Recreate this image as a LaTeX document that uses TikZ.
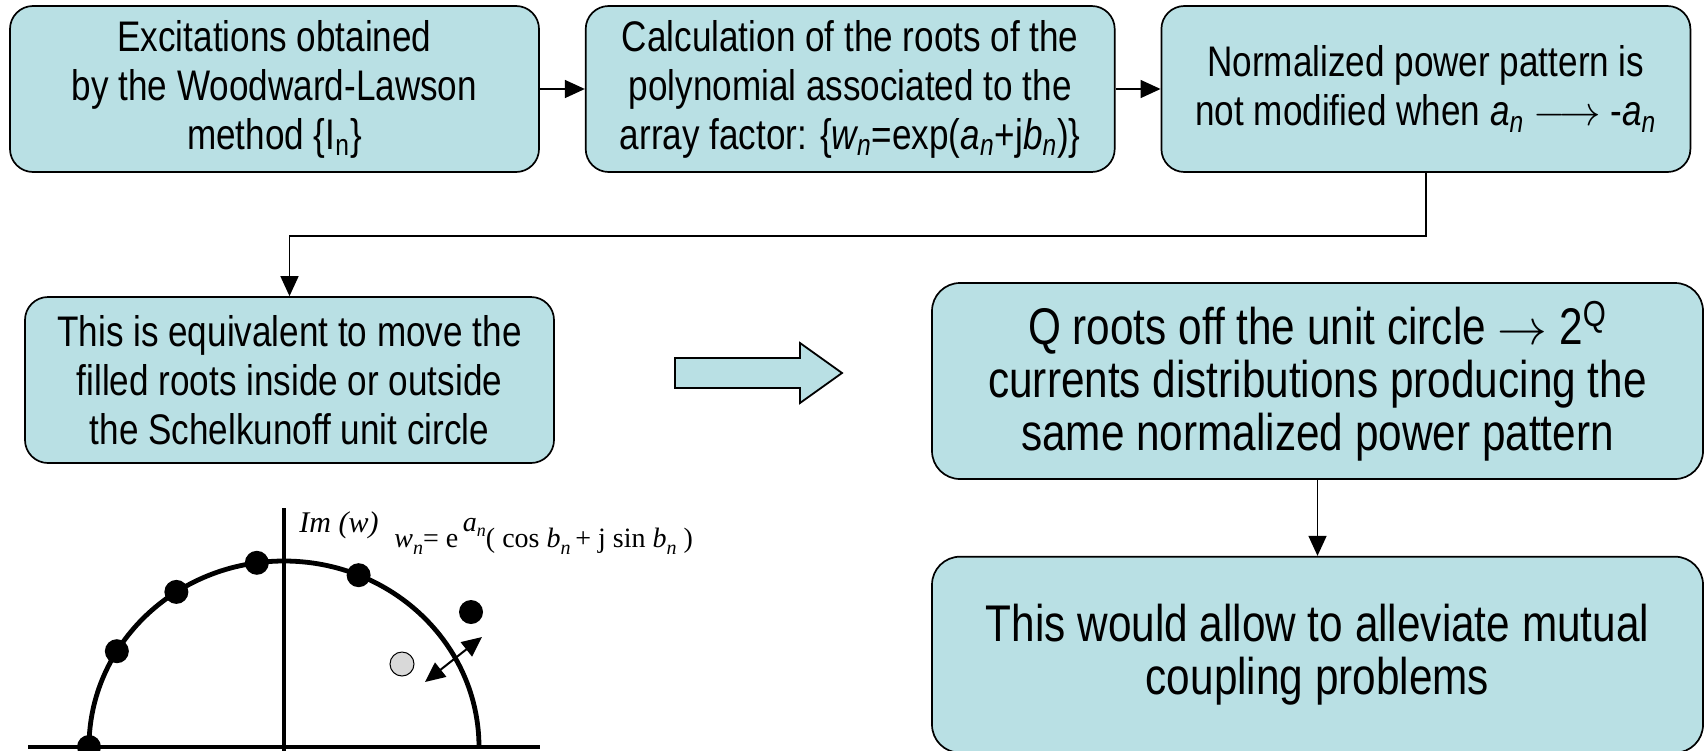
\documentclass[tikz,border=0pt]{standalone}
\usepackage{fontspec}
\setmainfont[FakeStretch=0.82]{Liberation Sans}
\newfontfamily\plotfont{Liberation Serif}
\usepackage{tikz}
\usetikzlibrary{arrows.meta,positioning}
\definecolor{boxfill}{RGB}{185,224,228}
\newcommand{\lowidx}[1]{\raisebox{-0.6ex}{\fontsize{10}{10}\selectfont\textit{#1}}}

\begin{document}
\begin{tikzpicture}[
    x=0.5pt, y=0.5pt,
    node distance=22.5pt,
    stepbox/.style={draw,fill=boxfill,rounded corners=11.5pt,align=center,line width=0.85pt,
        minimum width=264.5pt,minimum height=83pt,inner sep=2pt,
        font=\fontsize{21.4}{24.5}\selectfont},
    bigbox/.style={stepbox,rounded corners=14pt,minimum width=385.5pt,minimum height=98pt,
        font=\fontsize{25.8}{26.5}\selectfont},
    arrow/.style={-{Triangle[length=10pt,width=9pt]},line width=0.75pt},
    axis/.style={line width=2.4pt},
    root/.style={circle,fill=black,inner sep=0pt,minimum size=12pt},
    image/.style={root,fill=black!15,draw=black,line width=0.5pt},
    bigarrow/.style={draw,fill=boxfill,line width=0.9pt}
]
\useasboundingbox (0,0) rectangle (1706,-750);

% flow of the synthesis
\node[stepbox] (wl) at (274.5,-89)
    {Excitations obtained\\by the Woodward-Lawson\\method \{I\textsubscript{n}\}};
\node[stepbox,right=of wl] (roots)
    {Calculation of the roots of the\\polynomial associated to the\\array factor: \{\textit{w\textsubscript{n}}=exp(\textit{a\textsubscript{n}}+j\textit{b\textsubscript{n}})\}};
\node[stepbox,right=of roots] (pattern)
    {Normalized power pattern is\\not modified when \textit{a\textsubscript{n}} $\longrightarrow$ -\textit{a\textsubscript{n}}};
\node[stepbox] (move) at (289.5,-380)
    {This is equivalent to move the\\filled roots inside or outside\\the Schelkunoff unit circle};
\node[bigbox] (qroots) at (1317.5,-381)
    {Q roots off the unit circle $\rightarrow$ 2\textsuperscript{Q}\\currents distributions producing the\\same normalized power pattern};
\node[bigbox,below=38pt of qroots] (coupling)
    {This would allow to alleviate mutual\\coupling problems};
\draw[arrow] (wl) -- (roots);
\draw[arrow] (roots) -- (pattern);
\draw[arrow] (pattern.south) -- ++(0,-63) -| (move.north);
\draw[arrow] (qroots) -- (coupling);
\draw[bigarrow] (675,-358) -- (800,-358) -- (800,-343) -- (842,-373)
    -- (800,-403) -- (800,-388) -- (675,-388) -- cycle;

% Schelkunoff unit circle
\coordinate (o) at (284,-747);
\draw[axis] (28,-747) -- (540,-747);
\draw[axis] (284,-752) -- (284,-508);
\draw[axis] (479,-747) arc[start angle=0,end angle=180,x radius=195,y radius=186];
\foreach \a [count=\i] in {180,149,123.5,98,67.5}
    \node[root] (r\i) at ([shift={(o)}]\a:195 and 186) {};
\node[root] (out) at (471,-612) {};
\node[image] (in) at (402,-664) {};
\coordinate (mvA) at (425,-682);
\coordinate (mvB) at (482,-637);
\draw[{Triangle[length=10pt,width=9pt]}-{Triangle[length=10pt,width=9pt]},line width=1pt] (mvA) -- (mvB);
\node[anchor=base west,inner sep=0pt,font=\plotfont\itshape\fontsize{15}{15}\selectfont] (imw) at (299,-532) {Im (w)};
\node[anchor=base west,inner sep=0pt,font=\plotfont\fontsize{14}{14}\selectfont] (wn) at (394,-547)
    {\textit{w}\lowidx{n}= e\,\raisebox{1.2ex}{\textit{a}\raisebox{-0.4ex}{\fontsize{9}{9}\selectfont\textit{n}}}( cos \textit{b}\lowidx{n}\,+ j sin \textit{b}\lowidx{n} )};
\end{tikzpicture}
\end{document}
